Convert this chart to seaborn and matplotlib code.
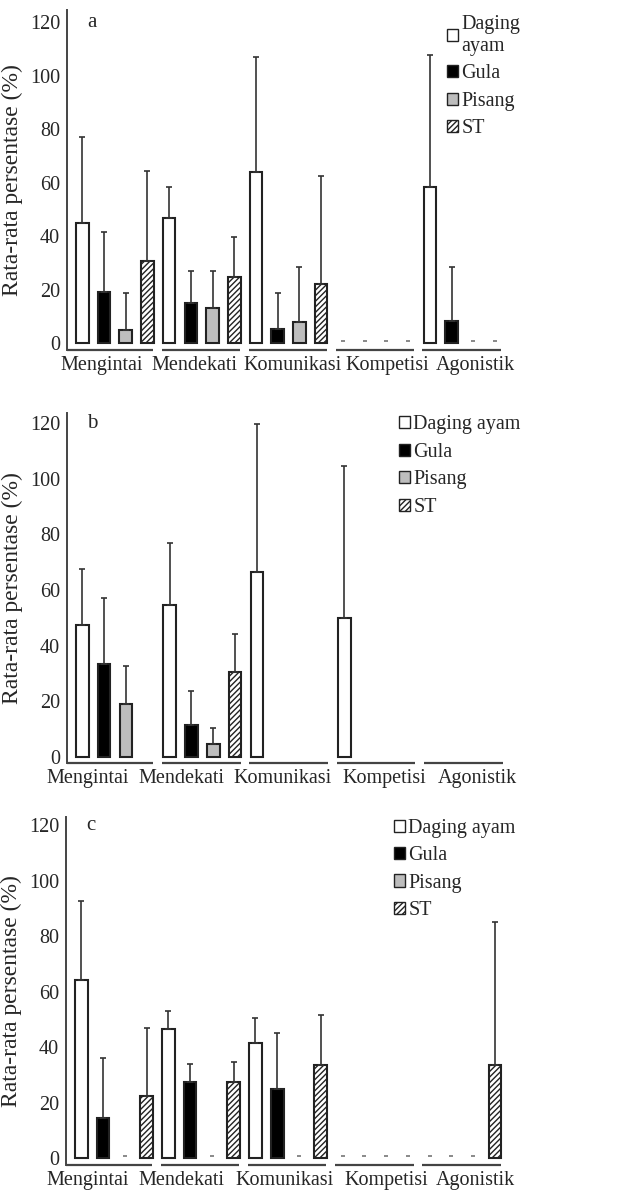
import numpy as np
import pandas as pd
import matplotlib
matplotlib.use("Agg")
import matplotlib.pyplot as plt
import matplotlib.patches as mpatches
import seaborn as sns

perilaku = ["Mengintai", "Mendekati", "Komunikasi", "Kompetisi", "Agonistik"]
pakan = ["Daging ayam", "Gula", "Pisang", "ST"]

# mean (%) and SD (upper error bar); NaN = nothing drawn, 0 = dash at zero
a_daging = [44.7, 46.9, 63.8, 0, 58.3]
a_daging_sd = [32.5, 11.5, 43.0, np.nan, 49.5]
a_gula = [19.1, 15.1, 5.2, 0, 8.3]
a_gula_sd = [22.3, 11.7, 13.6, np.nan, 20.3]
a_pisang = [4.9, 13.2, 8.0, 0, 0]
a_pisang_sd = [13.9, 13.6, 20.6, np.nan, np.nan]
a_st = [30.5, 24.6, 22.2, 0, 0]
a_st_sd = [33.9, 14.9, 40.4, np.nan, np.nan]

b_daging = [47.5, 54.5, 66.5, 50.0, np.nan]
b_daging_sd = [20.0, 22.5, 53.0, 54.5, np.nan]
b_gula = [33.5, 11.5, np.nan, np.nan, np.nan]
b_gula_sd = [23.5, 12.0, np.nan, np.nan, np.nan]
b_pisang = [19.0, 4.5, np.nan, np.nan, np.nan]
b_pisang_sd = [13.5, 6.0, np.nan, np.nan, np.nan]
b_st = [np.nan, 30.5, np.nan, np.nan, np.nan]
b_st_sd = [np.nan, 13.5, np.nan, np.nan, np.nan]

c_daging = [64.0, 46.5, 41.5, 0, 0]
c_daging_sd = [28.5, 6.5, 9.0, np.nan, np.nan]
c_gula = [14.5, 27.5, 25.0, 0, 0]
c_gula_sd = [21.5, 6.5, 20.0, np.nan, np.nan]
c_pisang = [0, 0, 0, 0, 0]
c_pisang_sd = [np.nan, np.nan, np.nan, np.nan, np.nan]
c_st = [22.5, 27.5, 33.5, 0, 33.5]
c_st_sd = [24.5, 7.0, 18.0, np.nan, 51.5]

fills = ["white", "black", "#bdbdbd", "white"]
hatches = ["", "", "", "//////"]

sns.set_style("white")
plt.rcParams["font.family"] = ["Liberation Serif", "DejaVu Serif"]
plt.rcParams["hatch.color"] = "#2a2a2a"
plt.rcParams["hatch.linewidth"] = 1.0

W, H = 617, 1195
fig = plt.figure(figsize=(W / 100, H / 100), dpi=100)


def make_df(series, sds):
    rows = []
    for k, name in enumerate(pakan):
        for i, cat in enumerate(perilaku):
            if not np.isnan(series[k][i]):
                rows.append({"Perilaku": cat, "Pakan": name,
                             "mean": series[k][i], "sd": sds[k][i]})
    return pd.DataFrame(rows)


def panel(rect, ylim, series, sds, letter, labels, leg_xy, leg_space, tick_shift):
    l, t, r, b = rect
    ax = fig.add_axes([l / W, 1 - b / H, (r - l) / W, (b - t) / H])
    df = make_df(series, sds)
    sns.barplot(data=df, x="Perilaku", y="mean", hue="Pakan",
                order=perilaku, hue_order=pakan, palette=fills,
                width=1.0, gap=0.42, edgecolor="#222222", linewidth=1.5,
                errorbar=None, legend=False, ax=ax)
    for p in list(ax.patches):
        xc = p.get_x() + p.get_width() / 2
        i = int(round(xc))
        k = int(round((xc - i + 0.375) / 0.25))
        if p.get_height() == 0:
            p.set_visible(False)
            ax.plot(xc, 0.8, marker="_", ms=3.5, color="#808080", mew=1.3)
            continue
        p.set_hatch(hatches[k])
        sd = sds[k][i]
        if not np.isnan(sd):
            ax.errorbar(xc, p.get_height(), yerr=[[0], [sd]], fmt="none",
                        ecolor="#333333", elinewidth=1.2, capsize=2.5,
                        capthick=1.2, zorder=1)
    ax.set_xlim(-0.55, 4.49)
    ax.set_ylim(*ylim)
    ax.set_yticks([0, 20, 40, 60, 80, 100, 120])
    ax.set_xticks(np.arange(5) + np.array(tick_shift))
    ax.set_xticklabels(perilaku)
    ax.tick_params(axis="both", length=0, labelsize=14.5)
    ax.tick_params(axis="x", pad=4)
    ax.tick_params(axis="y", pad=5)
    ax.set_xlabel("")
    ax.set_ylabel("Rata-rata persentase (%)", fontsize=17)
    ax.yaxis.set_label_coords(-0.1, 0.5)
    for s in ["top", "right", "bottom"]:
        ax.spines[s].set_visible(False)
    ax.spines["left"].set_color("#444444")
    ax.spines["left"].set_linewidth(1.4)
    for i in range(5):
        x0 = -0.55 if i == 0 else i - 0.46
        ax.hlines(ylim[0], x0, i + 0.44, color="#444444", lw=1.6, clip_on=False)
    ax.text(0.057, 120, letter, transform=ax.get_yaxis_transform(),
            fontsize=15, va="center", ha="center")
    handles = [mpatches.Patch(facecolor=fills[k], edgecolor="#222222",
                              hatch=hatches[k], linewidth=1.0, label=labels[k])
               for k in range(4)]
    ax.legend(handles=handles, loc="upper left", bbox_to_anchor=leg_xy,
              frameon=False, fontsize=14.5, handlelength=0.55,
              handleheight=0.55, handletextpad=0.15, labelspacing=leg_space,
              borderpad=0, borderaxespad=0)
    return ax


panel((67, 10, 505, 350), (-2.6, 124.5),
      [a_daging, a_gula, a_pisang, a_st],
      [a_daging_sd, a_gula_sd, a_pisang_sd, a_st_sd],
      "a", ["Daging\nayam", "Gula", "Pisang", "ST"], (0.868, 0.985), 0.42,
      [-0.15, -0.08, 0.04, 0.14, 0.15])
panel((67, 413, 507, 763), (-2.2, 123.6),
      [b_daging, b_gula, b_pisang, b_st],
      [b_daging_sd, b_gula_sd, b_pisang_sd, b_st_sd],
      "b", pakan, (0.755, 0.993), 0.42,
      [-0.31, -0.24, -0.08, 0.09, 0.15])
panel((66, 817, 505, 1165), (-2.5, 122.9),
      [c_daging, c_gula, c_pisang, c_st],
      [c_daging_sd, c_gula_sd, c_pisang_sd, c_st_sd],
      "c", pakan, (0.748, 0.995), 0.42,
      [-0.30, -0.22, -0.04, 0.13, 0.15])

fig.savefig("out.png", dpi=100)
